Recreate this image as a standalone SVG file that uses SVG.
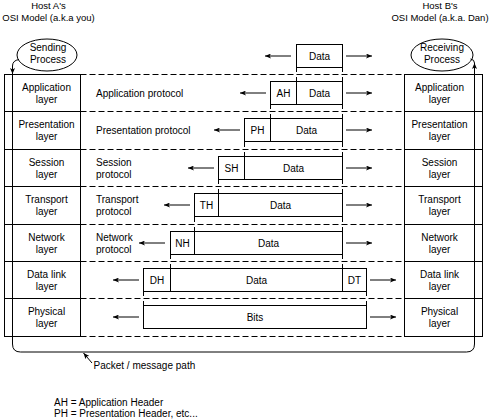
<svg xmlns="http://www.w3.org/2000/svg" width="493" height="420" viewBox="0 0 493 420">
<style>
text{font-family:"Liberation Sans",Arial,sans-serif;font-size:10px;fill:#000}
.c{text-anchor:middle}
.t{font-size:9.5px}
.s{fill:none;stroke:#000;stroke-width:1}
.b{fill:#fff;stroke:#000;stroke-width:1}
.d{fill:none;stroke:#000;stroke-width:1;stroke-dasharray:6 3}
.a{fill:none;stroke:#000;stroke-width:1;marker-end:url(#ah)}
</style>
<defs>
<marker id="ah" viewBox="0 0 6 5" refX="6" refY="2.5" markerWidth="6" markerHeight="5" markerUnits="userSpaceOnUse" orient="auto">
<path d="M0,0 L6,2.5 L0,5 L1.5,2.5 z" fill="#000"/>
</marker>
</defs>
<rect width="493" height="420" fill="#fff"/>

<g id="titles">
<text class="c t" x="48.5" y="9">Host A's</text>
<text class="c t" x="48.5" y="21">OSI Model (a.k.a you)</text>
<text class="c t" x="440" y="9">Host B's</text>
<text class="c t" x="440" y="21">OSI Model (a.k.a. Dan)</text>
</g>

<g id="sending-process">
<ellipse class="b" cx="47" cy="55" rx="30" ry="16"/>
<text class="c" x="48" y="50.5">Sending</text>
<text class="c" x="48" y="63">Process</text>
</g>
<g id="receiving-process">
<ellipse class="b" cx="442" cy="55" rx="31" ry="16"/>
<text class="c" x="442" y="50.5">Receiving</text>
<text class="c" x="442" y="63">Process</text>
</g>

<g id="dividers">
<path class="d" d="M80.5,74.5H404.5M80.5,111.5H404.5M80.5,149.5H404.5M80.5,186.5H404.5M80.5,224.5H404.5M80.5,261.5H404.5M80.5,298.5H404.5M80.5,336.5H404.5"/>
</g>

<g id="host-a-stack">
<rect class="b" x="4.5" y="74.5" width="76" height="262"/>
<path class="s" d="M4.5,111.5H80.5M4.5,149.5H80.5M4.5,186.5H80.5M4.5,224.5H80.5M4.5,261.5H80.5M4.5,298.5H80.5"/>
<text class="c" x="46.5" y="90.5">Application</text><text class="c" x="46.5" y="102.5">layer</text>
<text class="c" x="46.5" y="128">Presentation</text><text class="c" x="46.5" y="140">layer</text>
<text class="c" x="46.5" y="165.5">Session</text><text class="c" x="46.5" y="177.5">layer</text>
<text class="c" x="46.5" y="203">Transport</text><text class="c" x="46.5" y="215">layer</text>
<text class="c" x="46.5" y="240.5">Network</text><text class="c" x="46.5" y="252.5">layer</text>
<text class="c" x="46.5" y="277.5">Data link</text><text class="c" x="46.5" y="289.5">layer</text>
<text class="c" x="46.5" y="315">Physical</text><text class="c" x="46.5" y="327">layer</text>
</g>

<g id="host-b-stack">
<rect class="b" x="404.5" y="74.5" width="78" height="262"/>
<path class="s" d="M404.5,111.5H482.5M404.5,149.5H482.5M404.5,186.5H482.5M404.5,224.5H482.5M404.5,261.5H482.5M404.5,298.5H482.5"/>
<text class="c" x="439.5" y="90.5">Application</text><text class="c" x="439.5" y="102.5">layer</text>
<text class="c" x="439.5" y="128">Presentation</text><text class="c" x="439.5" y="140">layer</text>
<text class="c" x="439.5" y="165.5">Session</text><text class="c" x="439.5" y="177.5">layer</text>
<text class="c" x="439.5" y="203">Transport</text><text class="c" x="439.5" y="215">layer</text>
<text class="c" x="439.5" y="240.5">Network</text><text class="c" x="439.5" y="252.5">layer</text>
<text class="c" x="439.5" y="277.5">Data link</text><text class="c" x="439.5" y="289.5">layer</text>
<text class="c" x="439.5" y="315">Physical</text><text class="c" x="439.5" y="327">layer</text>
</g>

<g id="protocol-labels">
<text x="96" y="96.5">Application protocol</text>
<text x="96" y="134">Presentation protocol</text>
<text x="96" y="165.5">Session</text><text x="96" y="177.5">protocol</text>
<text x="96" y="203">Transport</text><text x="96" y="215">protocol</text>
<text x="96" y="240.5">Network</text><text x="96" y="252.5">protocol</text>
</g>

<g id="pdu-top">
<rect class="b" x="296.5" y="44.5" width="46" height="23"/>
<text class="c" x="319.5" y="59.5">Data</text>
</g>
<g id="pdu-application">
<rect class="b" x="270.5" y="81.5" width="72" height="23"/>
<path class="s" d="M296.5,81.5V104.5"/>
<text class="c" x="283.5" y="96.5">AH</text>
<text class="c" x="319.5" y="96.5">Data</text>
</g>
<g id="pdu-presentation">
<rect class="b" x="244.5" y="118.5" width="98" height="23"/>
<path class="s" d="M270.5,118.5V141.5"/>
<text class="c" x="257.5" y="133.5">PH</text>
<text class="c" x="306.5" y="133.5">Data</text>
</g>
<g id="pdu-session">
<rect class="b" x="218.5" y="156.5" width="124" height="23"/>
<path class="s" d="M244.5,156.5V179.5"/>
<text class="c" x="231.5" y="171.5">SH</text>
<text class="c" x="293.5" y="171.5">Data</text>
</g>
<g id="pdu-transport">
<rect class="b" x="194.5" y="193.5" width="148" height="23"/>
<path class="s" d="M218.5,193.5V216.5"/>
<text class="c" x="206.5" y="208.5">TH</text>
<text class="c" x="280.5" y="208.5">Data</text>
</g>
<g id="pdu-network">
<rect class="b" x="170.5" y="231.5" width="172" height="23"/>
<path class="s" d="M194.5,231.5V254.5"/>
<text class="c" x="182.5" y="246.5">NH</text>
<text class="c" x="268.5" y="246.5">Data</text>
</g>
<g id="pdu-datalink">
<rect class="b" x="143.5" y="268.5" width="223" height="23"/>
<path class="s" d="M170.5,268.5V291.5M342.5,268.5V291.5"/>
<text class="c" x="157" y="283.5">DH</text>
<text class="c" x="256.5" y="283.5">Data</text>
<text class="c" x="354.5" y="283.5">DT</text>
</g>
<g id="pdu-physical">
<rect class="b" x="143.5" y="305.5" width="223" height="23"/>
<text class="c" x="255" y="320.5">Bits</text>
</g>

<g id="connectors">
<path class="s" d="M296.5,67.5V72M342.5,67.5V72M296.5,77V81.5M342.5,77V81.5
M270.5,104.5V109M342.5,104.5V109M270.5,114V118.5M342.5,114V118.5
M244.5,141.5V147M342.5,141.5V147M244.5,152V156.5M342.5,152V156.5
M218.5,179.5V184M342.5,179.5V184M218.5,189V193.5M342.5,189V193.5
M194.5,216.5V222M342.5,216.5V222M194.5,227V231.5M342.5,227V231.5
M170.5,254.5V259M342.5,254.5V259M170.5,264V268.5M342.5,264V268.5
M143.5,291.5V296M366.5,291.5V296M143.5,301V305.5M366.5,301V305.5"/>
<path class="a" d="M291,56H265"/>
<path class="a" d="M346,56H372"/>
<path class="a" d="M266,93H240"/>
<path class="a" d="M346,93H372"/>
<path class="a" d="M240,130H214"/>
<path class="a" d="M346,130H372"/>
<path class="a" d="M214,168H188"/>
<path class="a" d="M346,168H372"/>
<path class="a" d="M190,205H164"/>
<path class="a" d="M346,205H372"/>
<path class="a" d="M165,243H139"/>
<path class="a" d="M346,243H372"/>
<path class="a" d="M139,280H113"/>
<path class="a" d="M370,280H396"/>
<path class="a" d="M139,317H113"/>
<path class="a" d="M370,317H396"/>
<path class="a" d="M19,59.5Q12.5,60.5 12.5,66V74"/>
<path class="s" d="M12.5,74V344Q12.5,352 20.5,352H466.5Q474.5,352 474.5,344V66"/>
<path class="a" d="M474.5,74V63"/>
<path class="s" d="M474.5,63Q474.5,59.5 470.5,59"/>
<path class="a" d="M92,363L83.5,353"/>
</g>

<g id="labels">
<text x="93.5" y="369">Packet / message path</text>
<text x="54" y="406">AH = Application Header</text>
<text x="54" y="417">PH = Presentation Header, etc...</text>
</g>
</svg>
